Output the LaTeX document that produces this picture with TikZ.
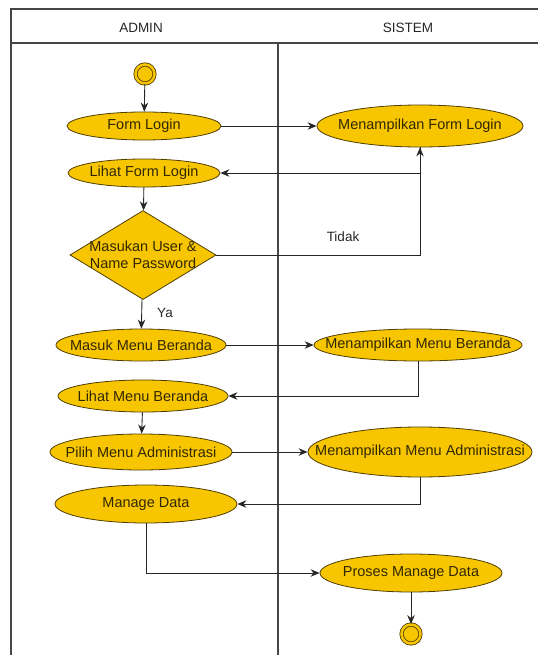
\documentclass[tikz,border=0pt]{standalone}
\usepackage{fontspec}
\setmainfont{Liberation Sans}
\usetikzlibrary{shapes.geometric, arrows.meta}

\definecolor{actfill}{RGB}{247,198,0}
\definecolor{actline}{RGB}{80,62,0}
\definecolor{acttext}{RGB}{50,40,0}
\definecolor{laneline}{RGB}{70,70,70}

\tikzset{
  act/.style = {ellipse, draw = actline, fill = actfill, text = acttext, line width = 0.8pt,
                inner xsep = -40pt, inner ysep = 0pt, font = \fontsize{14.5}{17}\selectfont},
  decide/.style = {diamond, draw = actline, fill = actfill, text = acttext, line width = 0.8pt,
                   aspect = 1.6, inner xsep = -8pt, inner ysep = 0pt, align = center,
                   font = \fontsize{14.5}{17}\selectfont},
  terminal/.style = {circle, draw = actline, fill = actfill, line width = 0.8pt,
                     double = actfill, double distance = 2.5pt, minimum size = 19pt, inner sep = 0pt},
  flow/.style = {-{Stealth[length = 9pt, width = 7.5pt]}, line width = 0.9pt, black!85},
  lane/.style = {draw = laneline, line width = 1.2pt},
  tag/.style = {font = \fontsize{13.5}{16}\selectfont, text = black!85}
}

\begin{document}
\begin{tikzpicture}[x = 1pt, y = -1pt]
\useasboundingbox (0,0) rectangle (538,655);

% swimlanes
\draw[lane] (11,655) -- (11,9) -- (538,9);
\draw[lane] (11,43) -- (538,43);
\draw[lane] (278,43) -- (278,655);
\node[tag] (admin) at (141,28) {ADMIN};
\node[tag] (sistem) at (408,28) {SISTEM};

% admin lane
\node[terminal] (start) at (145,74) {};
\node[act, minimum width = 154pt, minimum height = 28pt] (formlogin) at (144,126) {Form Login};
\node[act, minimum width = 152pt, minimum height = 28pt] (lihatformlogin) at (144,173) {Lihat Form Login};
\node[decide, minimum width = 146pt, minimum height = 89pt] (cekuser) at (143,255) {Masukan User \&\\Name Password};
\node[act, minimum width = 170pt, minimum height = 32pt] (masukberanda) at (141,345) {Masuk Menu Beranda};
\node[act, minimum width = 170pt, minimum height = 32pt] (lihatberanda) at (143,396) {Lihat Menu Beranda};
\node[act, minimum width = 182pt, minimum height = 36pt] (pilihadmin) at (141,452) {Pilih Menu Administrasi};
\node[act, minimum width = 182pt, minimum height = 38pt] (managedata) at (146,504) {Manage Data};

% sistem lane
\node[act, minimum width = 206pt, minimum height = 42pt] (tampilformlogin) at (420,126) {Menampilkan Form Login};
\node[act, minimum width = 208pt, minimum height = 32pt] (tampilberanda) at (418,345) {Menampilkan Menu Beranda};
\node[act, minimum width = 224pt, minimum height = 50pt] (tampiladmin) at (420,452) {Menampilkan Menu Administrasi};
\node[act, minimum width = 182pt, minimum height = 38pt] (prosesdata) at (411,573) {Proses Manage Data};
\node[terminal] (stop) at (411,634) {};

% flows
\draw[flow] (start) -- (formlogin);
\draw[flow] (formlogin) -- (tampilformlogin);
\draw[flow] (tampilformlogin.south) |- (lihatformlogin.east);
\draw[flow] (lihatformlogin) -- (cekuser);
\draw[flow] (cekuser.east) -| (tampilformlogin.south);
\node[tag] (tidak) at (343,237) {Tidak};
\draw[flow] (cekuser) -- (masukberanda);
\node[tag] (ya) at (165,313) {Ya};
\draw[flow] (masukberanda) -- (tampilberanda);
\draw[flow] (tampilberanda.south) |- (lihatberanda.east);
\draw[flow] (lihatberanda) -- (pilihadmin);
\draw[flow] (pilihadmin) -- (tampiladmin);
\draw[flow] (tampiladmin.south) |- (managedata.east);
\draw[flow] (managedata.south) |- (prosesdata.west);
\draw[flow] (prosesdata) -- (stop);
\end{tikzpicture}
\end{document}
